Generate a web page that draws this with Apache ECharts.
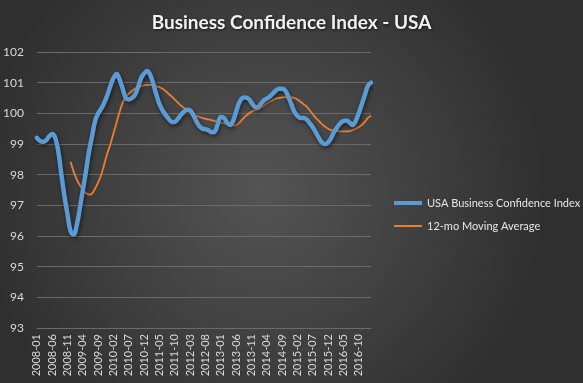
<!DOCTYPE html>
<html>
<head>
<meta charset="utf-8">
<script src="https://cdn.jsdelivr.net/npm/echarts@6/dist/echarts.min.js"></script>
<style>
html,body{margin:0;padding:0;background:#404040;}
#c{width:583px;height:383px;}
</style>
</head>
<body>
<div id="c"></div>
<script>
// Categories: monthly 2008-01 .. 2017-02
var categories = [];
for (var y = 2008; y <= 2017; y++) {
  for (var m = 1; m <= 12; m++) {
    if (y === 2017 && m > 2) break;
    categories.push(y + '-' + (m < 10 ? '0' + m : m));
  }
}
var seriesNames = ['USA Business Confidence Index', '12-mo Moving Average'];
var bciValues = [
  99.2, 99.1, 99.07, 99.12, 99.25, 99.33, 99.2, 98.75, 98.0, 97.3,
  96.7, 96.15, 96.05, 96.35, 96.9, 97.5, 98.1, 98.75, 99.25, 99.75,
  100.0, 100.15, 100.35, 100.6, 100.9, 101.15, 101.28, 101.1, 100.8, 100.5,
  100.45, 100.5, 100.6, 100.85, 101.15, 101.3, 101.38, 101.25, 100.95, 100.6,
  100.3, 100.1, 99.95, 99.82, 99.72, 99.72, 99.82, 99.95, 100.05, 100.12,
  100.1, 99.95, 99.75, 99.58, 99.5, 99.48, 99.45, 99.38, 99.4, 99.65,
  99.88, 99.85, 99.7, 99.62, 99.75, 100.05, 100.35, 100.5, 100.52, 100.48,
  100.35, 100.22, 100.2, 100.3, 100.42, 100.48, 100.55, 100.65, 100.75, 100.8,
  100.8, 100.75, 100.55, 100.3, 100.05, 99.92, 99.85, 99.85, 99.8, 99.68,
  99.55, 99.38, 99.2, 99.05, 99.0, 99.05, 99.2, 99.4, 99.55, 99.68,
  99.75, 99.77, 99.7, 99.62, 99.75, 100.0, 100.3, 100.6, 100.9, 101.0
];
var maValues = [
  null, null, null, null, null, null, null, null, null, null,
  null, 98.42, 98.1, 97.85, 97.66, 97.5, 97.4, 97.35, 97.38, 97.55,
  97.75, 98.0, 98.35, 98.7, 99.0, 99.35, 99.7, 100.05, 100.35, 100.52,
  100.64, 100.73, 100.8, 100.85, 100.88, 100.92, 100.93, 100.93, 100.9, 100.88,
  100.85, 100.8, 100.73, 100.63, 100.55, 100.45, 100.35, 100.25, 100.18, 100.1,
  100.0, 99.95, 99.92, 99.88, 99.85, 99.82, 99.8, 99.78, 99.75, 99.72,
  99.7, 99.68, 99.65, 99.62, 99.6, 99.62, 99.68, 99.8, 99.9, 99.98,
  100.05, 100.1, 100.12, 100.18, 100.25, 100.32, 100.38, 100.43, 100.48, 100.5,
  100.52, 100.53, 100.53, 100.52, 100.5, 100.45, 100.38, 100.3, 100.22, 100.1,
  99.97, 99.85, 99.75, 99.65, 99.57, 99.5, 99.45, 99.43, 99.42, 99.41,
  99.41, 99.41, 99.42, 99.45, 99.5, 99.55, 99.62, 99.72, 99.85, 99.92
];
var yTicks = [93, 94, 95, 96, 97, 98, 99, 100, 101, 102];

// legend icon shapes: a horizontal bar inside a 28x12 box (tiny corner dots fix the box)
var iconThick = 'path://M0,0h0.01v0.01h-0.01z M28,11.99h0.01v0.01h-0.01z M0,4h28v4h-28z';
var iconThin = 'path://M0,0h0.01v0.01h-0.01z M28,11.99h0.01v0.01h-0.01z M0,5.1h28v1.8h-28z';

var chart = echarts.init(document.getElementById('c'), null, {renderer: 'canvas'});
chart.setOption({
  backgroundColor: {
    type: 'radial', x: 0.45, y: 0.5, r: 0.75,
    colorStops: [{offset: 0, color: '#545454'}, {offset: 1, color: '#2f2f2f'}]
  },
  animation: false,
  title: {
    text: 'Business Confidence Index - USA',
    left: 'center', top: 8,
    textStyle: {
      color: '#f2f2f2', fontFamily: 'Lato', fontWeight: 'bold', fontSize: 19,
      textShadowColor: 'rgba(0,0,0,0.6)', textShadowBlur: 3, textShadowOffsetX: 1, textShadowOffsetY: 1
    }
  },
  legend: {
    orient: 'vertical', left: 389, top: 192, itemGap: 11,
    itemWidth: 28, itemHeight: 12,
    textStyle: {color: '#e6e6e6', fontFamily: 'Lato', fontSize: 11},
    data: [
      {name: seriesNames[0], icon: iconThick, itemStyle: {color: '#5b9bd5'}},
      {name: seriesNames[1], icon: iconThin, itemStyle: {color: '#ed7d31'}}
    ]
  },
  grid: {left: 35, right: 212, top: 52, bottom: 55, containLabel: false},
  xAxis: {
    type: 'category', data: categories, boundaryGap: false,
    axisLine: {show: true, lineStyle: {color: '#6a6a6a', width: 1}},
    axisTick: {show: false},
    axisLabel: {
      interval: 4, rotate: 90, color: '#d9d9d9', fontFamily: 'Lato', fontSize: 11, margin: 6
    },
    splitLine: {show: false}
  },
  yAxis: {
    type: 'value', min: yTicks[0], max: yTicks[yTicks.length - 1], interval: 1,
    axisLine: {show: false}, axisTick: {show: false},
    axisLabel: {color: '#d9d9d9', fontFamily: 'Lato', fontSize: 12, margin: 13},
    splitLine: {lineStyle: {color: '#6a6a6a', width: 1}}
  },
  series: [
    {
      name: seriesNames[0], type: 'line', data: bciValues, smooth: 0.4,
      symbol: 'none', showSymbol: false,
      lineStyle: {color: '#5b9bd5', width: 4.5, cap: 'round', join: 'round',
        shadowColor: 'rgba(0,0,0,0.55)', shadowBlur: 4, shadowOffsetX: 1, shadowOffsetY: 2},
      itemStyle: {color: '#5b9bd5'},
      z: 3
    },
    {
      name: seriesNames[1], type: 'line', data: maValues, smooth: 0.4,
      symbol: 'none', showSymbol: false, connectNulls: false,
      lineStyle: {color: '#ed7d31', width: 1.8},
      itemStyle: {color: '#ed7d31'},
      z: 2
    }
  ]
});
</script>
</body>
</html>
